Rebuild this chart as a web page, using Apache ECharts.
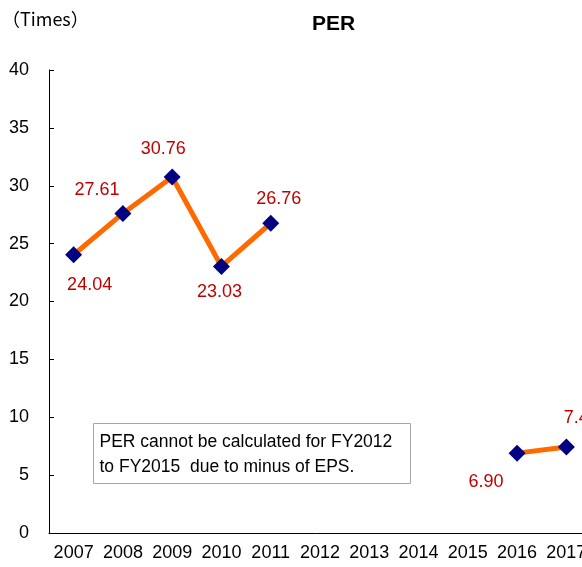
<!DOCTYPE html>
<html>
<head>
<meta charset="utf-8">
<script src="https://cdn.jsdelivr.net/npm/echarts@6/dist/echarts.min.js"></script>
<style>
  html, body { margin: 0; padding: 0; background: #fff; }
  #main { width: 582px; height: 567px; }
</style>
</head>
<body>
<div id="main"></div>
<script>
// 年度
const years = ["2007", "2008", "2009", "2010", "2011", "2012", "2013", "2014", "2015", "2016", "2017"];
// PER (FY2012-FY2015 は計算不可)
const perValues = [24.04, 27.61, 30.76, 23.03, 26.76, null, null, null, null, 6.90, 7.43];
// y 軸
const yMin = 0;
const yMax = 40;
const yStep = 5;
// ラベルの位置ずらし
const labelShift = [[16, 30], [-26, -23], [-9, -28], [-2, 26], [8, -24], null, null, null, null, [-31, 29], [15, -29]];

var chart = echarts.init(document.getElementById("main"));

var seriesData = perValues.map(function (v, i) {
  if (v === null) return "-";
  return {
    value: v,
    label: { offset: labelShift[i] },
  };
});

var option = {
  animation: false,
  title: [
    {
      text: "PER",
      left: 307,
      top: 9,
      textStyle: { fontFamily: "Liberation Sans", fontSize: 21, fontWeight: "bold", color: "#000" },
    },
    {
      text: "（Times）",
      left: -3,
      top: 5,
      textStyle: { fontFamily: "Noto Sans CJK JP", fontSize: 18, fontWeight: "normal", color: "#000" },
    },
  ],
  grid: {
    left: 49,
    top: 70,
    width: 542,
    height: 463,
    outerBoundsMode: "none",
    containLabel: false,
  },
  xAxis: {
    type: "category",
    data: years,
    boundaryGap: true,
    axisLine: { lineStyle: { color: "#000", width: 1 } },
    axisTick: { inside: true, length: 6, lineStyle: { color: "#000" } },
    axisLabel: {
      color: "#000",
      fontFamily: "Liberation Sans",
      fontSize: 18,
      margin: 11,
      interval: 0,
      hideOverlap: false,
    },
    splitLine: { show: false },
  },
  yAxis: {
    type: "value",
    min: yMin,
    max: yMax,
    interval: yStep,
    axisLine: { show: true, lineStyle: { color: "#000", width: 1 } },
    axisTick: { show: true, inside: true, length: 5, lineStyle: { color: "#000" } },
    axisLabel: {
      color: "#000",
      fontFamily: "Liberation Sans",
      fontSize: 18,
      margin: 20,
    },
    splitLine: { show: false },
  },
  series: [
    {
      name: "PER",
      type: "line",
      data: seriesData,
      connectNulls: false,
      symbol: "diamond",
      symbolSize: 17,
      itemStyle: { color: "#000080" },
      lineStyle: { color: "#FF6A00", width: 5 },
      label: {
        show: true,
        position: "inside",
        color: "#C00000",
        fontFamily: "Liberation Sans",
        fontSize: 18,
        formatter: function (p) {
          return Number(p.value).toFixed(2);
        },
      },
      z: 3,
    },
  ],
  graphic: [
    {
      type: "group",
      left: 93,
      top: 423,
      children: [
        {
          type: "rect",
          shape: { x: 0, y: 0, width: 317, height: 60 },
          style: { fill: "#fff", stroke: "#A6A6A6", lineWidth: 1 },
        },
        {
          type: "text",
          left: 6,
          top: 6,
          style: {
            text: "PER cannot be calculated for FY2012\nto FY2015  due to minus of EPS.",
            fontFamily: "Liberation Sans",
            fontSize: 17.5,
            lineHeight: 25,
            fill: "#000",
          },
        },
      ],
    },
  ],
};

chart.setOption(option);
</script>
</body>
</html>
